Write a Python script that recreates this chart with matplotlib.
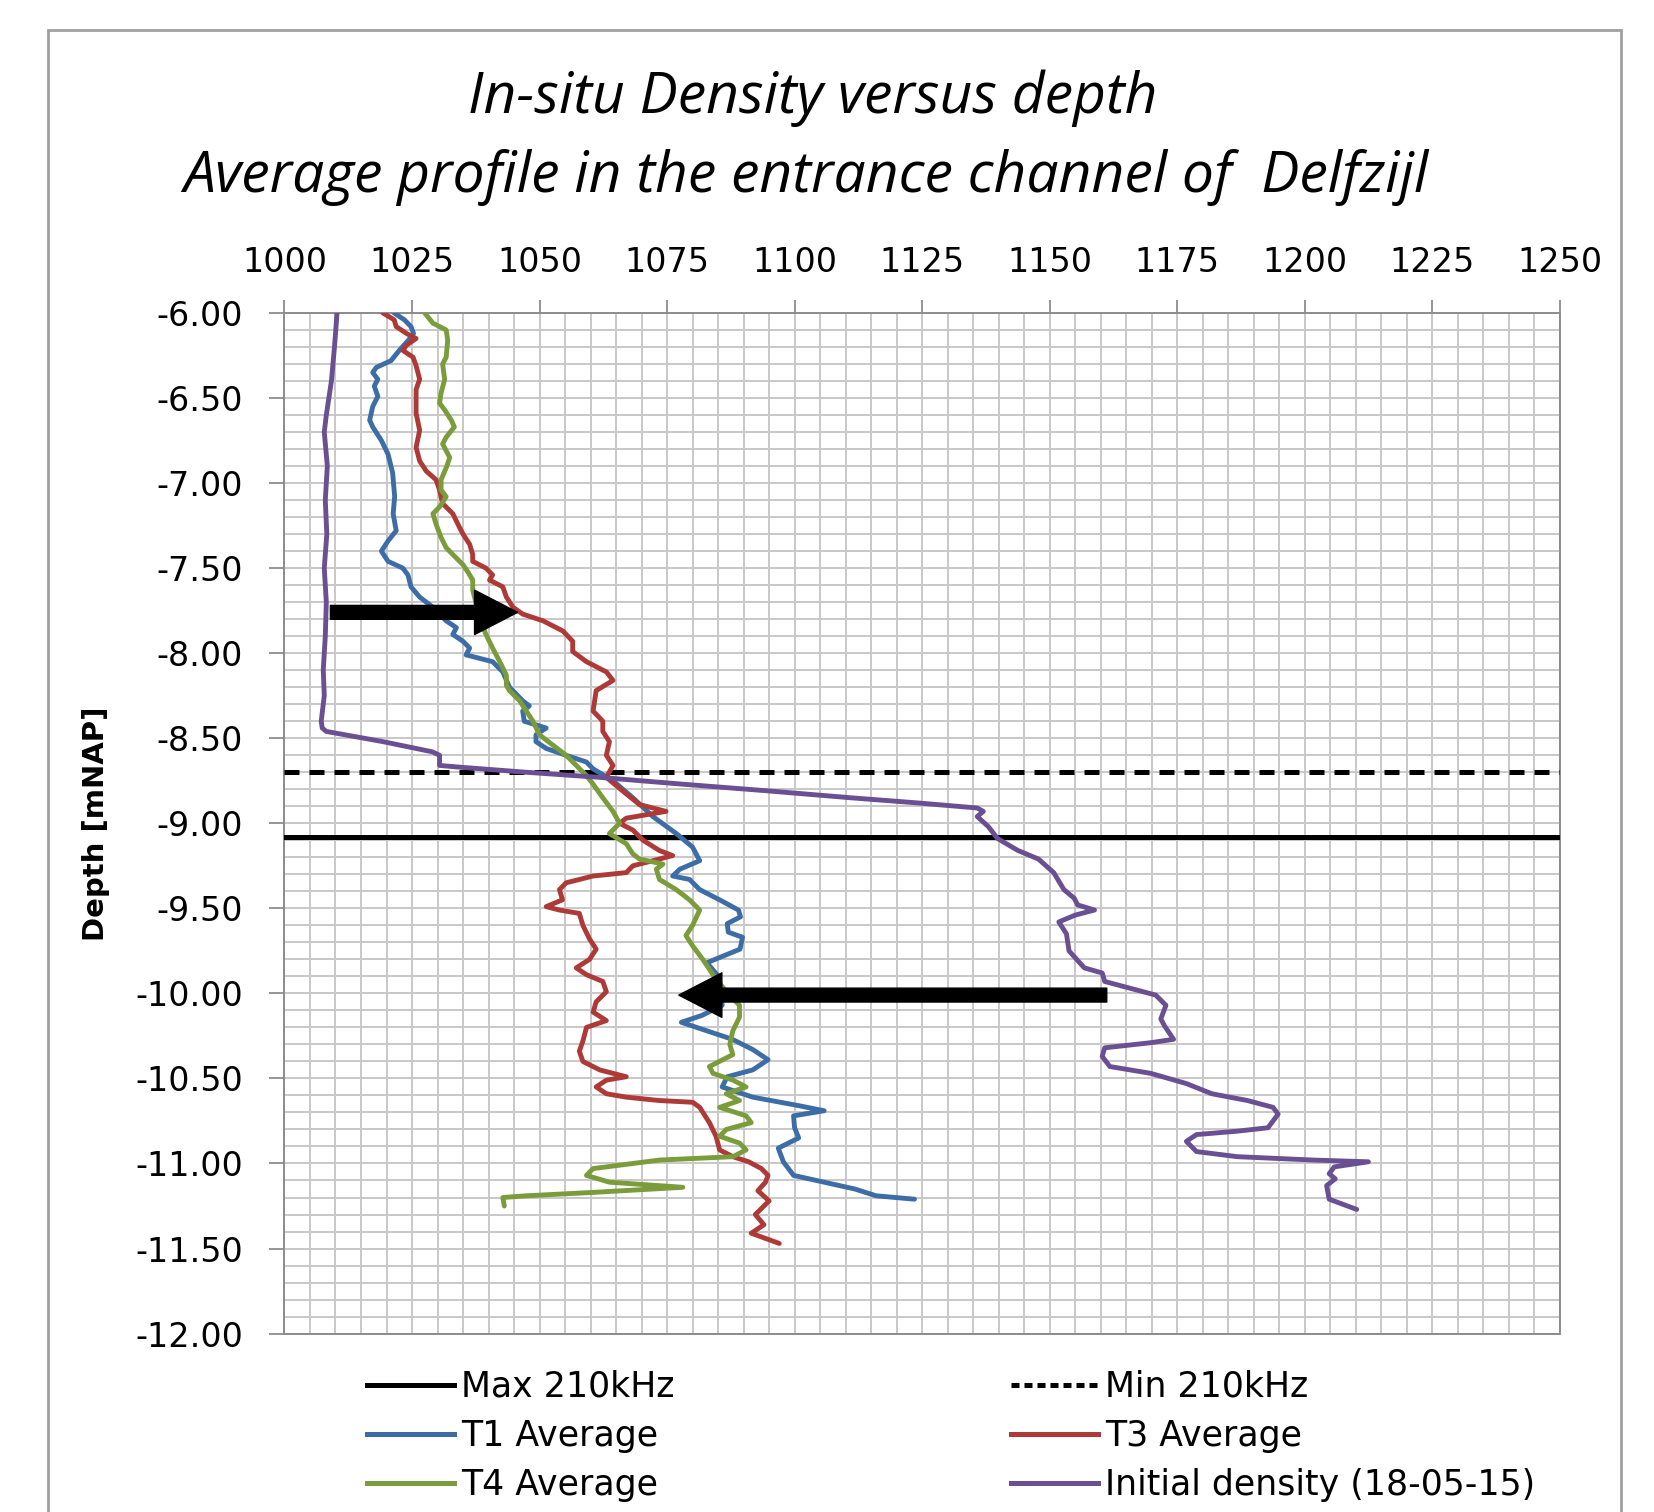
import matplotlib
matplotlib.use("Agg")
import matplotlib.pyplot as plt
from matplotlib.ticker import MultipleLocator, FormatStrFormatter
from matplotlib.lines import Line2D
from matplotlib.patches import Rectangle

# ---- data ----
max_210khz = -9.08
min_210khz = -8.70

initial_depth = [-6.00, -6.20, -6.40, -6.60, -6.70, -6.90, -7.10, -7.30, -7.50, -7.70,
                 -7.90, -8.10, -8.25, -8.40, -8.44, -8.46, -8.52, -8.58, -8.60, -8.66,
                 -8.67, -8.70, -8.73, -8.77, -8.81, -8.85, -8.88, -8.91, -8.93, -8.96,
                 -9.02, -9.09, -9.16, -9.21, -9.29, -9.39, -9.44, -9.48, -9.51, -9.54,
                 -9.58, -9.65, -9.75, -9.85, -9.88, -9.93, -9.97, -10.01, -10.07, -10.15,
                 -10.19, -10.27, -10.29, -10.32, -10.37, -10.43, -10.47, -10.53, -10.59, -10.63,
                 -10.67, -10.71, -10.79, -10.81, -10.83, -10.87, -10.93, -10.96, -10.98, -10.99,
                 -11.02, -11.06, -11.09, -11.13, -11.21, -11.27]
initial_dens = [1010.3, 1009.8, 1009.2, 1008.2, 1007.8, 1008.4, 1008.0, 1008.3, 1007.8, 1008.2,
                1008.0, 1007.6, 1007.8, 1007.2, 1007.4, 1008.2, 1019.3, 1029.0, 1030.4, 1030.4,
                1034.3, 1047.4, 1061.8, 1078.0, 1095.0, 1111.0, 1124.0, 1135.8, 1137.0, 1135.8,
                1138.0, 1139.8, 1143.8, 1147.8, 1150.8, 1152.8, 1154.8, 1155.5, 1158.8, 1155.0,
                1151.8, 1153.3, 1153.8, 1156.8, 1160.3, 1160.8, 1165.8, 1170.8, 1172.8, 1171.8,
                1172.5, 1174.3, 1169.8, 1160.8, 1160.3, 1161.8, 1169.8, 1176.8, 1181.8, 1188.8,
                1193.8, 1194.8, 1192.8, 1186.8, 1178.8, 1176.8, 1178.8, 1186.8, 1201.8, 1212.5,
                1205.8, 1204.8, 1206.0, 1204.3, 1204.8, 1210.2]

t1_depth = [-6.00, -6.04, -6.08, -6.12, -6.16, -6.22, -6.28, -6.32, -6.35, -6.39,
            -6.43, -6.49, -6.55, -6.63, -6.67, -6.75, -6.83, -6.94, -7.08, -7.18,
            -7.28, -7.34, -7.40, -7.46, -7.50, -7.54, -7.61, -7.67, -7.73, -7.81,
            -7.85, -7.89, -7.93, -7.97, -8.01, -8.03, -8.05, -8.11, -8.20, -8.28,
            -8.31, -8.34, -8.40, -8.44, -8.48, -8.52, -8.56, -8.60, -8.64, -8.68,
            -8.75, -8.85, -8.96, -9.06, -9.14, -9.22, -9.27, -9.31, -9.33, -9.39,
            -9.45, -9.51, -9.55, -9.59, -9.64, -9.67, -9.74, -9.82, -9.89, -9.98,
            -10.07, -10.13, -10.17, -10.21, -10.27, -10.33, -10.39, -10.45, -10.49, -10.55,
            -10.61, -10.66, -10.69, -10.72, -10.79, -10.85, -10.91, -10.99, -11.07, -11.11,
            -11.15, -11.19, -11.21]
t1_dens = [1021.5, 1023.5, 1024.8, 1025.3, 1024.3, 1022.5, 1020.9, 1018.0, 1017.3, 1018.3,
           1017.6, 1018.3, 1017.3, 1016.7, 1017.3, 1019.0, 1020.3, 1021.2, 1021.6, 1021.3,
           1021.9, 1020.3, 1019.0, 1020.3, 1023.2, 1024.2, 1024.8, 1026.5, 1029.1, 1031.7,
           1033.7, 1033.0, 1035.0, 1036.3, 1035.6, 1038.2, 1040.8, 1042.8, 1044.1, 1046.7,
           1048.0, 1046.7, 1047.0, 1051.3, 1049.3, 1049.3, 1051.3, 1055.2, 1059.2, 1060.5,
           1064.4, 1068.3, 1072.2, 1076.8, 1080.0, 1081.4, 1077.5, 1076.1, 1079.4, 1081.4,
           1085.3, 1089.0, 1089.4, 1086.8, 1087.0, 1089.8, 1089.3, 1082.8, 1084.8, 1085.5,
           1085.8, 1081.8, 1077.8, 1081.8, 1087.8, 1091.8, 1094.8, 1091.8, 1086.8, 1085.8,
           1091.8, 1100.8, 1105.8, 1099.8, 1100.0, 1100.8, 1096.8, 1097.8, 1099.8, 1105.8,
           1111.8, 1116.0, 1123.5]

t3_depth = [-6.00, -6.04, -6.08, -6.12, -6.15, -6.19, -6.22, -6.26, -6.31, -6.39,
            -6.45, -6.59, -6.69, -6.79, -6.87, -6.93, -6.98, -7.04, -7.12, -7.18,
            -7.26, -7.30, -7.36, -7.42, -7.46, -7.50, -7.54, -7.57, -7.61, -7.67,
            -7.73, -7.77, -7.81, -7.87, -7.93, -7.99, -8.05, -8.11, -8.16, -8.22,
            -8.34, -8.40, -8.46, -8.52, -8.60, -8.66, -8.73, -8.81, -8.89, -8.93,
            -8.97, -9.00, -9.04, -9.10, -9.16, -9.19, -9.22, -9.25, -9.29, -9.31,
            -9.35, -9.39, -9.45, -9.49, -9.51, -9.53, -9.60, -9.68, -9.74, -9.80,
            -9.85, -9.89, -9.93, -9.99, -10.05, -10.11, -10.16, -10.20, -10.28, -10.34,
            -10.40, -10.45, -10.49, -10.51, -10.55, -10.59, -10.61, -10.63, -10.64, -10.67,
            -10.76, -10.84, -10.92, -10.96, -10.99, -11.03, -11.07, -11.11, -11.16, -11.22,
            -11.30, -11.36, -11.41, -11.47]
t3_dens = [1019.3, 1021.5, 1021.9, 1023.9, 1025.8, 1023.9, 1023.2, 1025.2, 1025.8, 1026.5,
           1025.8, 1025.8, 1026.5, 1025.8, 1026.5, 1027.8, 1029.7, 1030.4, 1031.0, 1033.0,
           1034.3, 1035.0, 1036.3, 1036.9, 1036.9, 1039.5, 1040.8, 1040.2, 1042.8, 1043.5,
           1044.8, 1046.7, 1050.7, 1054.6, 1056.5, 1056.5, 1059.2, 1063.1, 1064.4, 1061.1,
           1060.5, 1062.4, 1062.4, 1063.7, 1063.1, 1064.4, 1063.1, 1066.3, 1069.6, 1074.8,
           1067.0, 1065.7, 1068.3, 1070.3, 1073.5, 1076.1, 1072.2, 1068.3, 1067.0, 1060.5,
           1055.2, 1053.9, 1054.5, 1051.3, 1053.9, 1057.8, 1058.5, 1059.8, 1061.1, 1059.8,
           1057.2, 1059.2, 1062.4, 1063.1, 1061.1, 1060.5, 1063.1, 1059.2, 1058.5, 1057.8,
           1058.5, 1061.8, 1067.0, 1063.1, 1061.1, 1063.1, 1067.0, 1073.5, 1080.0, 1081.4,
           1083.3, 1084.6, 1085.3, 1087.9, 1091.0, 1093.5, 1094.8, 1094.3, 1092.8, 1095.0,
           1092.3, 1094.0, 1091.5, 1097.0]

t4_depth = [-6.00, -6.06, -6.10, -6.16, -6.26, -6.30, -6.39, -6.47, -6.53, -6.57,
            -6.63, -6.67, -6.73, -6.77, -6.85, -6.91, -6.98, -7.04, -7.08, -7.14,
            -7.18, -7.24, -7.32, -7.38, -7.42, -7.48, -7.52, -7.57, -7.63, -7.71,
            -7.79, -7.89, -7.97, -8.05, -8.13, -8.19, -8.22, -8.28, -8.34, -8.40,
            -8.48, -8.54, -8.60, -8.66, -8.72, -8.77, -8.85, -8.93, -9.00, -9.06,
            -9.12, -9.18, -9.21, -9.24, -9.27, -9.33, -9.39, -9.45, -9.51, -9.60,
            -9.66, -9.72, -9.80, -9.89, -9.99, -10.07, -10.14, -10.22, -10.30, -10.36,
            -10.43, -10.47, -10.51, -10.55, -10.59, -10.63, -10.67, -10.72, -10.76, -10.80,
            -10.84, -10.88, -10.92, -10.96, -10.98, -11.03, -11.07, -11.11, -11.14, -11.17,
            -11.19, -11.20, -11.25]
t4_dens = [1027.5, 1029.1, 1031.7, 1032.0, 1031.7, 1031.0, 1031.4, 1030.7, 1030.4, 1031.4,
           1032.7, 1033.3, 1031.7, 1031.0, 1032.4, 1031.7, 1030.7, 1030.7, 1031.7, 1030.4,
           1029.1, 1029.7, 1030.7, 1031.7, 1033.0, 1035.0, 1035.9, 1036.9, 1036.9, 1037.6,
           1038.2, 1039.5, 1040.8, 1042.2, 1043.5, 1043.5, 1044.1, 1046.1, 1047.4, 1048.7,
           1050.0, 1052.6, 1055.2, 1057.2, 1059.2, 1060.5, 1062.4, 1064.4, 1065.7, 1063.7,
           1067.0, 1068.3, 1069.6, 1074.2, 1072.9, 1073.5, 1076.8, 1079.4, 1081.4, 1080.0,
           1078.7, 1080.0, 1082.0, 1084.0, 1086.6, 1089.2, 1089.2, 1087.9, 1087.3, 1087.9,
           1083.3, 1084.0, 1087.9, 1090.5, 1086.6, 1089.2, 1085.3, 1090.5, 1091.5, 1086.6,
           1085.3, 1089.2, 1090.5, 1087.9, 1073.5, 1060.5, 1059.2, 1063.7, 1078.1, 1060.5,
           1047.4, 1042.8, 1043.1]

# arrows (tail, head) in data units
arrow1 = ((1009.0, -7.76), (1045.7, -7.76))
arrow2 = ((1161.2, -10.01), (1077.3, -10.01))

x_ticks = list(range(1000, 1251, 25))

c_blue = "#3d6da6"
c_red = "#ad3a37"
c_green = "#7a9c3a"
c_purple = "#6a4f93"


def main():
    fig = plt.figure(figsize=(16.54, 15.12), dpi=100)
    ax = fig.add_axes([0.172, 0.118, 0.771, 0.675])

    # outer chart frame
    fig.patches.append(Rectangle((0.029, -0.01), 0.951, 0.99, transform=fig.transFigure,
                                 fill=False, edgecolor="#a0a0a0", lw=2.0))

    ax.axhline(max_210khz, color="black", lw=3.6, zorder=3)
    ax.axhline(min_210khz, color="black", lw=3.6, ls=(0, (3, 2)), zorder=3)
    line_kw = dict(lw=3.5, zorder=4, solid_joinstyle="round", solid_capstyle="round")
    ax.plot(t1_dens, t1_depth, color=c_blue, **line_kw)
    ax.plot(t3_dens, t3_depth, color=c_red, **line_kw)
    ax.plot(t4_dens, t4_depth, color=c_green, **line_kw)
    ax.plot(initial_dens, initial_depth, color=c_purple, **line_kw)

    for tail, head in (arrow1, arrow2):
        ax.annotate("", xy=head, xytext=tail,
                    arrowprops=dict(arrowstyle="simple,head_length=3.1,head_width=3.2,tail_width=1.0",
                                    color="black", shrinkA=0, shrinkB=0, mutation_scale=10),
                    zorder=6)

    ax.set_xlim(1000, 1250)
    ax.set_ylim(-12, -6)
    ax.xaxis.tick_top()
    ax.set_xticks(x_ticks)
    ax.xaxis.set_minor_locator(MultipleLocator(5))
    ax.yaxis.set_major_locator(MultipleLocator(0.5))
    ax.yaxis.set_minor_locator(MultipleLocator(0.1))
    ax.yaxis.set_major_formatter(FormatStrFormatter("%.2f"))

    ax.grid(which="both", color="#c8c8c8", lw=1.4, zorder=0)
    ax.set_axisbelow(True)
    ax.tick_params(which="major", axis="x", length=9.5, width=1.3, color="#8c8c8c",
                   labelsize=24, pad=15)
    ax.tick_params(which="major", axis="y", length=11, width=1.3, color="#8c8c8c",
                   labelsize=24, pad=19)
    ax.tick_params(which="minor", length=0)
    for s in ax.spines.values():
        s.set_color("#8c8c8c")
        s.set_linewidth(1.4)

    ax.set_ylabel("Depth [mNAP]", fontsize=21, fontweight="bold", labelpad=18)

    fig.text(0.4915, 0.925, "In-situ Density versus depth", fontsize=41,
             family="Open Sans", style="italic", ha="center", va="baseline")
    fig.text(0.487, 0.873, "Average profile in the entrance channel of  Delfzijl", fontsize=41,
             family="Open Sans", style="italic", ha="center", va="baseline")

    handles = [
        Line2D([], [], color="black", lw=3.6),
        Line2D([], [], color=c_blue, lw=3.6),
        Line2D([], [], color=c_green, lw=3.6),
        Line2D([], [], color="black", lw=3.6, ls=(0, (1.6, 1))),
        Line2D([], [], color=c_red, lw=3.6),
        Line2D([], [], color=c_purple, lw=3.6),
    ]
    labels = ["Max 210kHz", "T1 Average", "T4 Average",
              "Min 210kHz", "T3 Average", "Initial density (18-05-15)"]
    fig.legend(handles, labels, ncol=2, loc="upper left", bbox_to_anchor=(0.222, 0.094),
               frameon=False, fontsize=25, handlelength=2.5, handletextpad=0.2,
               columnspacing=9.7, labelspacing=0.44, borderpad=0, borderaxespad=0)

    fig.savefig("out.png", dpi=100)


if __name__ == "__main__":
    main()
